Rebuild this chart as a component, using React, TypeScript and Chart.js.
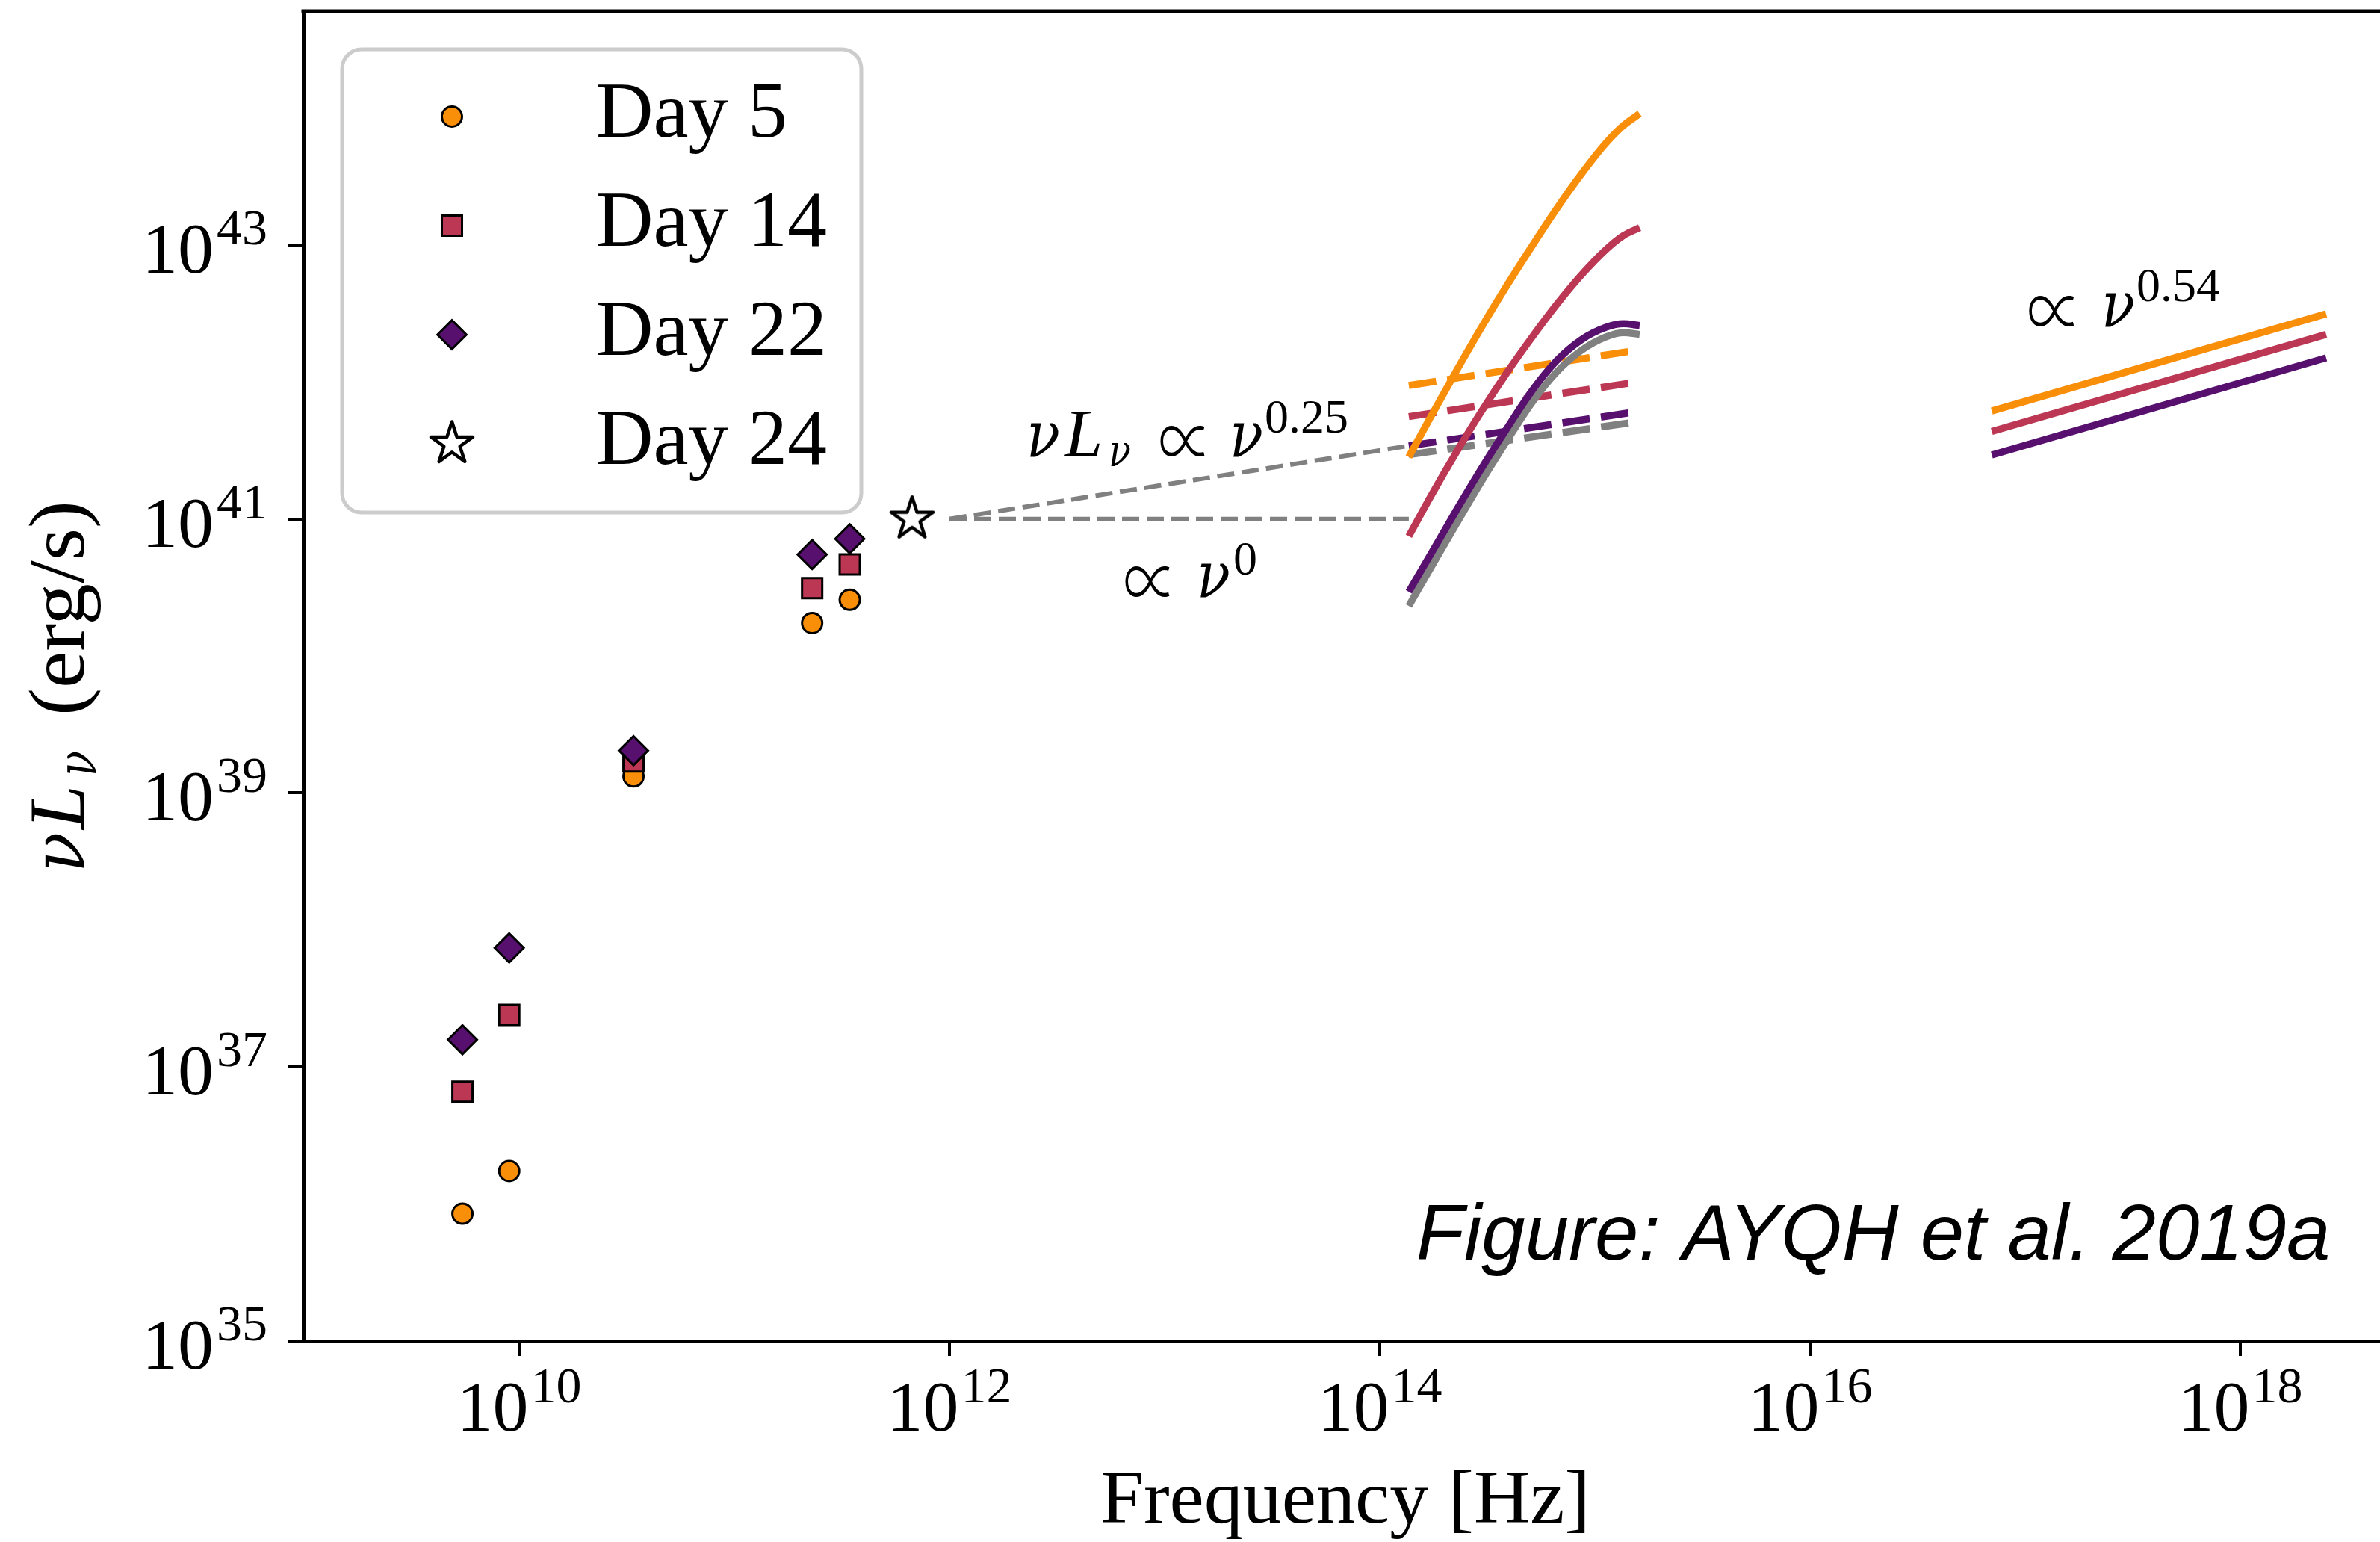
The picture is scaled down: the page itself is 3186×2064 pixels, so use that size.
import React, { useEffect, useRef } from 'react';
import { Chart, registerables } from 'chart.js';

Chart.register(...registerables);

const CANVAS_W = 3186;
const CANVAS_H = 2064;
// layout of the plotting area (pixels)
const PLOT_LEFT = 406;
const PLOT_TOP = 15;
const PLOT_BOTTOM = 1795;

// axis limits (log10 values)
const X_LOG_MIN = 8.9965;
const X_LOG_MAX = 18.6493;
const Y_LOG_MIN = 35;
const Y_LOG_MAX = 44.706;

// tick labels (exponents of 10)
const xTickExps = [10, 12, 14, 16, 18];
const yTickExps = [35, 37, 39, 41, 43];

const seriesNames = ['Day 5', 'Day 14', 'Day 22', 'Day 24'];

// observed points
const radioFreqHz = [5.45e9, 8.99e9, 3.4e10, 2.3e11, 3.44e11];
const day5Lum = [8.5e35, 1.74e36, 1.32e39, 1.74e40, 2.57e40];
const day14Lum = [6.6e36, 2.4e37, 1.7e39, 3.13e40, 4.66e40];
const day22Lum = [1.58e37, 7.4e37, 2.04e39, 5.5e40, 7.16e40];
const day24Freq = [6.7e11];
const day24Lum = [1.0e41];

// extrapolations from the Day 24 point (log10 nu, log10 nuLnu)
const extrapLogNu = [12.0, 14.135];
const extrapSlopeLogL = [41.0, 41.534];
const extrapFlatLogL = [41.0, 41.0];

// optical / IR power laws, dashed (log10)
const dashLogNu = [14.135, 15.156];
const dashDay5LogL = [41.974, 42.222];
const dashDay14LogL = [41.747, 41.99];
const dashDay22LogL = [41.533, 41.774];
const dashDay24LogL = [41.469, 41.7];

// optical / UV curves, solid (log10)
const curveLogNu = [14.135, 14.242, 14.358, 14.473, 14.589, 14.705, 14.82, 14.936, 15.052, 15.133, 15.208];
const curveDay5LogL = [41.452, 41.76, 42.086, 42.399, 42.699, 42.985, 43.259, 43.515, 43.744, 43.872, 43.958];
const curveDay14LogL = [40.874, 41.179, 41.492, 41.786, 42.063, 42.32, 42.56, 42.779, 42.967, 43.069, 43.126];
const curveDay22LogL = [40.469, 40.756, 41.069, 41.369, 41.656, 41.93, 42.151, 42.307, 42.399, 42.425, 42.412];
const curveDay24LogL = [40.365, 40.657, 40.97, 41.275, 41.565, 41.844, 42.068, 42.229, 42.329, 42.36, 42.347];

// X-ray power laws (log10)
const xrayLogNu = [16.845, 18.399];
const xrayDay5LogL = [41.788, 42.497];
const xrayDay14LogL = [41.639, 42.347];
const xrayDay22LogL = [41.467, 42.176];

// annotation anchors (log10 nu, log10 nuLnu)
const annSlopeAnchor = [12.358, 41.458];
const annFlatAnchor = [12.816, 40.433];
const annXrayAnchor = [17.017, 42.406];

const C_DAY5 = '#F98E09';
const C_DAY14 = '#BC3754';
const C_DAY22 = '#57106E';
const C_GRAY = '#808080';

const SERIF = '"Liberation Serif", "DejaVu Serif", serif';
const SANS = '"Liberation Sans", Arial, sans-serif';
const up = (s: number) => `${s}px ${SERIF}`;
const it = (s: number) => `italic ${s}px ${SERIF}`;
const nu = (s: number) => `italic ${s}px "DejaVu Serif", "Liberation Serif", serif`;
const sym = (s: number) => `300 ${s}px "Noto Sans CJK JP", "DejaVu Sans", serif`;

const pts = (xs: number[], ys: number[]) => xs.map((x, i) => ({ x, y: ys[i] }));
const lpts = (lx: number[], ly: number[]) => lx.map((x, i) => ({ x: Math.pow(10, x), y: Math.pow(10, ly[i]) }));

type Part = { t: string; f: string; at?: number; dx?: number; dy?: number; w?: number; h?: number };

function partsWidth(ctx: CanvasRenderingContext2D, parts: Part[]) {
  let cx = 0;
  for (const p of parts) {
    ctx.font = p.f;
    const m = ctx.measureText(p.t).width;
    const px = p.at !== undefined ? p.at : cx + (p.dx || 0);
    cx = px + (p.w || m);
  }
  return cx;
}

function drawParts(ctx: CanvasRenderingContext2D, parts: Part[], x: number, y: number) {
  let cx = 0;
  for (const p of parts) {
    ctx.font = p.f;
    const mt = ctx.measureText(p.t);
    const m = mt.width;
    const px = p.at !== undefined ? p.at : cx + (p.dx || 0);
    ctx.save();
    ctx.translate(x + px, y + (p.dy || 0));
    let sx = 1;
    let sy = 1;
    if (p.w) {
      const ink = (mt.actualBoundingBoxRight || m) + (mt.actualBoundingBoxLeft || 0);
      sx = p.w / (p.h ? ink : m);
    }
    if (p.h) {
      const inkH = (mt.actualBoundingBoxAscent || 1) + (mt.actualBoundingBoxDescent || 0);
      sy = p.h / inkH;
    }
    ctx.scale(sx, sy);
    ctx.fillText(p.t, p.h ? (mt.actualBoundingBoxLeft || 0) : 0, p.h ? -(mt.actualBoundingBoxDescent || 0) : 0);
    ctx.restore();
    cx = px + (p.w || m);
  }
}

function makeStarCanvas(R: number, lw: number) {
  const size = 2 * Math.ceil(R + lw + 2);
  const c = document.createElement('canvas');
  c.width = size;
  c.height = size;
  const g = c.getContext('2d')!;
  const cx = size / 2;
  const cy = size / 2;
  g.beginPath();
  for (let i = 0; i < 10; i++) {
    const r = i % 2 === 0 ? R : R * 0.381966;
    const a = -Math.PI / 2 + (i * Math.PI) / 5;
    const px = cx + r * Math.cos(a);
    const py = cy + r * Math.sin(a);
    if (i === 0) g.moveTo(px, py);
    else g.lineTo(px, py);
  }
  g.closePath();
  g.fillStyle = '#ffffff';
  g.fill();
  g.lineWidth = lw;
  g.lineJoin = 'round';
  g.strokeStyle = '#000000';
  g.stroke();
  return c;
}

const markerDefs = [
  { style: 'circle', r: 13.5, color: C_DAY5 },
  { style: 'rect', r: 19.1, color: C_DAY14 },
  { style: 'rectRot', r: 19.4, color: C_DAY22 },
  { style: 'star', r: 29.5, color: '#ffffff' },
];

function drawMarker(ctx: CanvasRenderingContext2D, m: any, x: number, y: number, star: HTMLCanvasElement) {
  if (m.style === 'star') {
    ctx.drawImage(star, x - star.width / 2, y - star.height / 2);
    return;
  }
  ctx.beginPath();
  if (m.style === 'circle') {
    ctx.arc(x, y, m.r, 0, Math.PI * 2);
  } else if (m.style === 'rect') {
    const h = m.r * Math.SQRT1_2;
    ctx.rect(x - h, y - h, 2 * h, 2 * h);
  } else {
    ctx.moveTo(x - m.r, y);
    ctx.lineTo(x, y - m.r);
    ctx.lineTo(x + m.r, y);
    ctx.lineTo(x, y + m.r);
    ctx.closePath();
  }
  ctx.fillStyle = m.color;
  ctx.fill();
  ctx.lineWidth = 3;
  ctx.strokeStyle = '#000';
  ctx.stroke();
}

export default function App() {
  const ref = useRef<HTMLCanvasElement>(null);

  useEffect(() => {
    const canvas = ref.current!;
    const star = makeStarCanvas(markerDefs[3].r, 4.5);

    const decor = {
      id: 'decor',
      afterDraw(chart: any) {
        const ctx: CanvasRenderingContext2D = chart.ctx;
        const ca = chart.chartArea;
        const xs = chart.scales.x;
        const ys = chart.scales.y;
        ctx.save();
        // top spine
        ctx.strokeStyle = '#000';
        ctx.lineWidth = 5;
        ctx.beginPath();
        ctx.moveTo(ca.left - 2.5, ca.top);
        ctx.lineTo(ca.right, ca.top);
        ctx.stroke();

        ctx.fillStyle = '#000';
        ctx.textBaseline = 'alphabetic';
        ctx.textAlign = 'left';

        // x tick labels
        xs.ticks.forEach((t: any, i: number) => {
          const px = xs.getPixelForValue(t.value);
          const parts: Part[] = [
            { t: '10', f: up(96) },
            { t: String(xTickExps[i]), f: up(68), dx: 3, dy: -38 },
          ];
          const w = partsWidth(ctx, parts);
          drawParts(ctx, parts, px - w / 2, ca.bottom + 120);
        });
        // y tick labels
        ys.ticks.forEach((t: any, i: number) => {
          const py = ys.getPixelForValue(t.value);
          const parts: Part[] = [
            { t: '10', f: up(96) },
            { t: String(yTickExps[i]), f: up(68), dx: 4, dy: -38 },
          ];
          const w = partsWidth(ctx, parts);
          drawParts(ctx, parts, ca.left - 48 - w, py + 37);
        });

        // x title
        drawParts(ctx, [{ t: 'Frequency [Hz]', f: up(102), w: 656 }], (ca.left + ca.right) / 2 + 5 - 328, ca.bottom + 243);

        // y title (rotated)
        ctx.save();
        ctx.translate(112, ca.bottom - 627);
        ctx.rotate(-Math.PI / 2);
        drawParts(ctx, [
          { t: 'ν', f: nu(100), at: 0, w: 54 },
          { t: 'L', f: it(106), at: 58 },
          { t: 'ν', f: nu(72), at: 129, dy: 16, w: 34 },
          { t: '(erg/s)', f: up(106), at: 210, w: 288 },
        ], 0, 0);
        ctx.restore();

        // annotations
        const ax1 = xs.getPixelForValue(Math.pow(10, annSlopeAnchor[0]));
        const ay1 = ys.getPixelForValue(Math.pow(10, annSlopeAnchor[1]));
        drawParts(ctx, [
          { t: 'ν', f: nu(86), at: 0, w: 45 },
          { t: 'L', f: it(92), at: 51 },
          { t: 'ν', f: nu(60), at: 110, dy: 13, w: 30 },
          { t: '∝', f: sym(92), at: 179, w: 60, h: 42 },
          { t: 'ν', f: nu(86), at: 272, w: 45 },
          { t: '0.25', f: up(64), at: 319, dy: -32 },
        ], ax1, ay1);

        const ax2 = xs.getPixelForValue(Math.pow(10, annFlatAnchor[0]));
        const ay2 = ys.getPixelForValue(Math.pow(10, annFlatAnchor[1]));
        drawParts(ctx, [
          { t: '∝', f: sym(92), at: 0, w: 60, h: 42 },
          { t: 'ν', f: nu(86), at: 96, w: 45 },
          { t: '0', f: up(64), at: 145, dy: -30 },
        ], ax2, ay2);

        const ax3 = xs.getPixelForValue(Math.pow(10, annXrayAnchor[0]));
        const ay3 = ys.getPixelForValue(Math.pow(10, annXrayAnchor[1]));
        drawParts(ctx, [
          { t: '∝', f: sym(92), at: 0, w: 61, h: 42 },
          { t: 'ν', f: nu(86), at: 97, w: 45 },
          { t: '0.54', f: up(64), at: 144, dy: -34 },
        ], ax3, ay3);

        // credit
        ctx.font = `italic 105px ${SANS}`;
        ctx.textAlign = 'right';
        ctx.fillText('Figure: AYQH et al. 2019a', ca.right - 66.5, ca.bottom - 109);
        ctx.textAlign = 'left';

        // legend
        const bx = ca.left + 52;
        const by = ca.top + 51;
        const bw = 695;
        const bh = 620;
        ctx.beginPath();
        if ((ctx as any).roundRect) (ctx as any).roundRect(bx, by, bw, bh, 26);
        else ctx.rect(bx, by, bw, bh);
        ctx.fillStyle = 'rgba(255,255,255,0.8)';
        ctx.fill();
        ctx.lineWidth = 5;
        ctx.strokeStyle = '#cccccc';
        ctx.stroke();
        markerDefs.forEach((m, i) => {
          const ry = by + 90 + i * 146;
          drawMarker(ctx, m, bx + 147, ry, star);
          ctx.fillStyle = '#000';
          ctx.font = up(106);
          ctx.fillText(seriesNames[i], bx + 340, ry + 27);
        });

        ctx.restore();
      },
    };

    const lineDs = (data: any[], color: string, width: number, dash: number[], order: number, smooth: boolean) => ({
      data,
      showLine: true,
      borderColor: color,
      backgroundColor: color,
      borderWidth: width,
      borderDash: dash,
      borderCapStyle: 'butt',
      borderJoinStyle: 'round',
      pointRadius: 0,
      pointHoverRadius: 0,
      fill: false,
      cubicInterpolationMode: smooth ? 'monotone' : 'default',
      tension: 0,
      order,
    });

    const markerDs = (label: string, data: any[], style: any, r: number, color: string, order: number) => ({
      label,
      data,
      showLine: false,
      pointStyle: style,
      pointRadius: r,
      pointHoverRadius: r,
      pointBackgroundColor: color,
      pointBorderColor: '#000',
      pointBorderWidth: 3,
      pointHoverBorderWidth: 3,
      order,
    });

    const DASH_C = [37, 15];
    const DASH_T = [23, 10];

    const chart = new Chart(canvas, {
      type: 'scatter',
      data: {
        datasets: [
          markerDs(seriesNames[2], pts(radioFreqHz, day22Lum), 'rectRot', markerDefs[2].r, C_DAY22, 0),
          markerDs(seriesNames[1], pts(radioFreqHz, day14Lum), 'rect', markerDefs[1].r, C_DAY14, 1),
          markerDs(seriesNames[0], pts(radioFreqHz, day5Lum), 'circle', markerDefs[0].r, C_DAY5, 2),
          markerDs(seriesNames[3], pts(day24Freq, day24Lum), star, markerDefs[3].r, '#fff', 3),
          lineDs(lpts(curveLogNu, curveDay5LogL), C_DAY5, 9.5, [], 10, true),
          lineDs(lpts(curveLogNu, curveDay14LogL), C_DAY14, 9.5, [], 11, true),
          lineDs(lpts(curveLogNu, curveDay22LogL), C_DAY22, 9.5, [], 12, true),
          lineDs(lpts(curveLogNu, curveDay24LogL), C_GRAY, 9.5, [], 13, true),
          lineDs(lpts(xrayLogNu, xrayDay5LogL), C_DAY5, 9.5, [], 14, false),
          lineDs(lpts(xrayLogNu, xrayDay14LogL), C_DAY14, 9.5, [], 15, false),
          lineDs(lpts(xrayLogNu, xrayDay22LogL), C_DAY22, 9.5, [], 16, false),
          lineDs(lpts(dashLogNu, dashDay5LogL), C_DAY5, 9.5, DASH_C, 20, false),
          lineDs(lpts(dashLogNu, dashDay14LogL), C_DAY14, 9.5, DASH_C, 21, false),
          lineDs(lpts(dashLogNu, dashDay22LogL), C_DAY22, 9.5, DASH_C, 22, false),
          lineDs(lpts(dashLogNu, dashDay24LogL), C_GRAY, 9.5, DASH_C, 23, false),
          lineDs(lpts(extrapLogNu, extrapSlopeLogL), C_GRAY, 6, DASH_T, 30, false),
          lineDs(lpts(extrapLogNu, extrapFlatLogL), C_GRAY, 6, DASH_T, 31, false),
        ] as any,
      },
      options: {
        responsive: false,
        maintainAspectRatio: false,
        animation: false,
        devicePixelRatio: 1,
        events: [],
        layout: { autoPadding: false, padding: { top: PLOT_TOP, left: 0, right: 0, bottom: 0 } },
        plugins: {
          legend: { display: false },
          tooltip: { enabled: false },
          title: { display: false },
        },
        scales: {
          x: {
            type: 'logarithmic',
            position: 'bottom',
            min: Math.pow(10, X_LOG_MIN),
            max: Math.pow(10, X_LOG_MAX),
            afterBuildTicks: (s: any) => {
              s.ticks = xTickExps.map((e) => ({ value: Math.pow(10, e) }));
            },
            afterFit: (s: any) => {
              s.height = CANVAS_H - PLOT_BOTTOM;
            },
            ticks: { display: false },
            grid: { display: true, drawOnChartArea: false, drawTicks: true, tickLength: 20, lineWidth: 4, color: '#000' },
            border: { display: true, color: '#000', width: 5 },
            title: { display: false },
          },
          y: {
            type: 'logarithmic',
            position: 'left',
            min: Math.pow(10, Y_LOG_MIN),
            max: Math.pow(10, Y_LOG_MAX),
            afterBuildTicks: (s: any) => {
              s.ticks = yTickExps.map((e) => ({ value: Math.pow(10, e) }));
            },
            afterFit: (s: any) => {
              s.width = PLOT_LEFT;
            },
            ticks: { display: false },
            grid: { display: true, drawOnChartArea: false, drawTicks: true, tickLength: 20, lineWidth: 4, color: '#000' },
            border: { display: true, color: '#000', width: 5 },
            title: { display: false },
          },
        },
      } as any,
      plugins: [decor as any],
    });

    return () => chart.destroy();
  }, []);

  return (
    <div style={{ position: 'fixed', left: 0, top: 0, width: CANVAS_W, height: CANVAS_H, background: '#fff' }}>
      <canvas
        ref={ref}
        width={CANVAS_W}
        height={CANVAS_H}
        style={{ display: 'block', width: CANVAS_W, height: CANVAS_H }}
      />
    </div>
  );
}
